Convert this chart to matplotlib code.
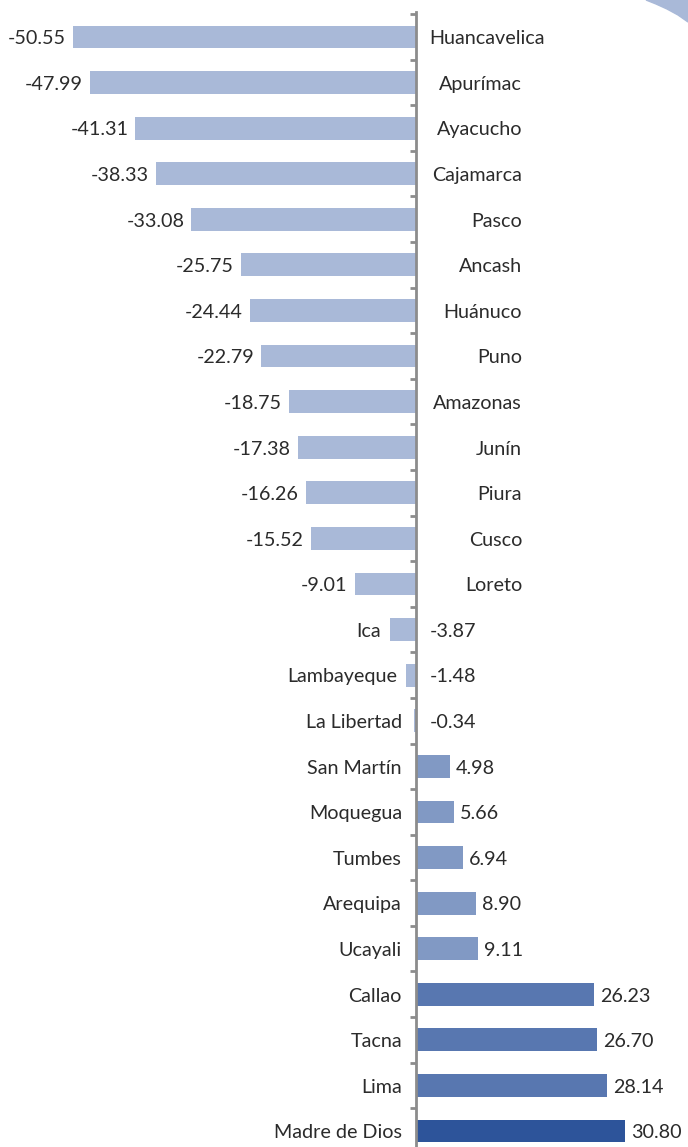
import matplotlib
matplotlib.use("Agg")
import matplotlib.pyplot as plt
from matplotlib.patches import Polygon

plt.rcParams['font.family'] = ['Lato', 'DejaVu Sans']

regions = ["Huancavelica", "Apurímac", "Ayacucho", "Cajamarca", "Pasco", "Ancash",
           "Huánuco", "Puno", "Amazonas", "Junín", "Piura", "Cusco", "Loreto", "Ica",
           "Lambayeque", "La Libertad", "San Martín", "Moquegua", "Tumbes", "Arequipa",
           "Ucayali", "Callao", "Tacna", "Lima", "Madre de Dios"]
values = [-50.55, -47.99, -41.31, -38.33, -33.08, -25.75, -24.44, -22.79, -18.75,
          -17.38, -16.26, -15.52, -9.01, -3.87, -1.48, -0.34, 4.98, 5.66, 6.94,
          8.90, 9.11, 26.23, 26.70, 28.14, 30.80]

c_neg = "#a9b9d8"
c_low = "#8199c4"
c_mid = "#5877b0"
c_top = "#2d549a"
txt = "#2b2b2b"


def bar_color(v):
    if v < 0:
        return c_neg
    if v < 10:
        return c_low
    if v < 30:
        return c_mid
    return c_top


fig = plt.figure(figsize=(6.88, 11.47), dpi=100)
ax = fig.add_axes([0, 0, 1, 1])
ax.set_xlim(-61.26, 40.08)
ax.set_ylim(24.35, -0.81)

ypos = list(range(len(regions)))
ax.barh(ypos, values, height=0.5, color=[bar_color(v) for v in values], zorder=2)

# vertical axis at zero with small ticks between the categories
for s in ["top", "right", "bottom"]:
    ax.spines[s].set_visible(False)
ax.spines['left'].set_position(('data', 0))
ax.spines['left'].set_bounds(-0.55, 24.35)
ax.spines['left'].set_color("#8c8c8c")
ax.spines['left'].set_linewidth(2)
ax.spines['left'].set_zorder(3)
ax.set_xticks([])
ax.set_yticks([i - 0.5 for i in range(len(regions))])
ax.tick_params(axis='y', direction='out', length=4, width=2, color="#8c8c8c",
               labelleft=False)

fs = 14.2
style = dict(va='center', fontsize=fs, color=txt)
dy = 0.04
cat_labels = []
for i, (name, v) in enumerate(zip(regions, values)):
    y = i + dy
    if v <= -5:
        ax.text(v - 1.03, y, f"{v:.2f}", ha='right', **style)
        t = ax.text(15.63, y, name, ha='right', **style)
        cat_labels.append(t)
    elif v < 0:
        ax.text(min(v - 1.3, -2.05), y, name, ha='right', **style)
        ax.text(2.08, y, f"{v:.2f}", ha='left', **style)
    else:
        ax.text(-2.05, y, name, ha='right', **style)
        ax.text(v + 0.88, y, f"{v:.2f}", ha='left', **style)

# long names that would run into the axis start just right of it instead
fig.canvas.draw()
renderer = fig.canvas.get_renderer()
for t in cat_labels:
    bb = t.get_window_extent(renderer)
    left = ax.transData.inverted().transform((bb.x0, bb.y0))[0]
    if left < 1.93:
        t.set_x(1.93)
        t.set_ha('left')

# corner decoration
W, H = 688, 1147
corner = [(646, 0), (656, 4), (667, 9), (678, 15), (688, 22), (688, 0)]
fig.patches.append(Polygon([(x / W, 1 - y / H) for x, y in corner], closed=True,
                           transform=fig.transFigure, color=c_neg, zorder=0))

fig.savefig("out.png", dpi=100)
